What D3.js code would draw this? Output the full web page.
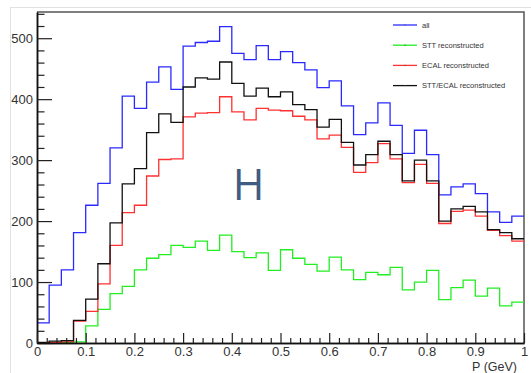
<!DOCTYPE html>
<html>
<head>
<meta charset="utf-8">
<script src="https://cdn.jsdelivr.net/npm/d3@7"></script>
<style>
  body { margin: 0; background: #fff; }
  svg { display: block; font-family: "Liberation Sans", Arial, sans-serif; }
</style>
</head>
<body>
<svg id="graphContainer" width="531" height="373"></svg>
<script>
// 40 bins of 0.025 GeV
const binLow = d3.range(40).map(i => i * 0.025);
const allCounts = [33, 95, 120, 181, 226, 262, 320, 405, 385, 428, 453, 416, 487, 493, 495, 519, 475, 465, 488, 465,
  478, 460, 448, 419, 430, 389, 342, 361, 394, 357, 311, 349, 309, 243, 256, 261, 245, 215, 198, 208];
const sttCounts = [0, 0, 1, 2, 28, 55, 81, 93, 120, 139, 145, 160, 157, 167, 152, 177, 150, 140, 148, 119,
  153, 139, 129, 118, 141, 120, 104, 116, 112, 124, 87, 100, 119, 71, 91, 103, 77, 90, 61, 67];
const ecalCounts = [0, 1, 2, 36, 52, 97, 160, 214, 226, 274, 301, 302, 371, 377, 378, 404, 379, 366, 385, 382,
  381, 372, 366, 335, 341, 321, 280, 296, 327, 302, 263, 293, 262, 196, 216, 218, 208, 185, 176, 167];
const bothCounts = [1, 3, 4, 37, 72, 130, 197, 261, 286, 345, 376, 362, 420, 435, 433, 461, 426, 405, 418, 404,
  412, 391, 383, 354, 367, 329, 292, 309, 331, 309, 266, 300, 266, 200, 220, 224, 215, 186, 181, 171];
const seriesNames = ['all', 'STT reconstructed', 'ECAL reconstructed', 'STT/ECAL reconstructed'];
const seriesColors = ['#2a2aff', '#22ee22', '#ff3030', '#111111'];
const xTicks = [0, 0.1, 0.2, 0.3, 0.4, 0.5, 0.6, 0.7, 0.8, 0.9, 1];
const yTicks = [0, 100, 200, 300, 400, 500];

const svg = d3.select('#graphContainer');
const frameL = 37, frameR = 524, frameT = 12, frameB = 343;

const x = d3.scaleLinear().domain([0, 1]).range([frameL, frameR]);
const y = d3.scaleLinear().domain([0, 543]).range([frameB, frameT]);

// light pad border
svg.append('line').attr('x1', 10.5).attr('x2', 10.5).attr('y1', 7).attr('y2', 373)
  .attr('stroke', '#e2e2e2');
svg.append('line').attr('x1', 10).attr('x2', 531).attr('y1', 7.5).attr('y2', 7.5)
  .attr('stroke', '#e2e2e2');

// frame top / right
svg.append('path')
  .attr('d', `M${frameL},${frameT}H${frameR}V${frameB}`)
  .attr('fill', 'none').attr('stroke', '#555').attr('stroke-width', 1.5);

// histograms
const step = d3.line().curve(d3.curveStepAfter).x(d => x(d[0])).y(d => y(d[1]));
[allCounts, sttCounts, ecalCounts, bothCounts].forEach((counts, k) => {
  const pts = binLow.map((b, i) => [b, counts[i]]);
  pts.push([1, counts[counts.length - 1]]);
  svg.append('path')
    .datum(pts)
    .attr('d', step)
    .attr('fill', 'none')
    .attr('stroke', seriesColors[k])
    .attr('stroke-width', 1.3);
});

// axes, ticks inward like ROOT
const yMinor = d3.range(0, 541, 20).filter(v => v % 100 !== 0);
const xMinor = d3.range(0, 51).map(i => i * 0.02).filter((v, i) => i % 5 !== 0);

svg.append('g').attr('transform', `translate(${frameL},0)`)
  .call(d3.axisLeft(y).tickValues(yMinor).tickSizeInner(-7.5).tickSizeOuter(0).tickFormat(''));
svg.append('g').attr('transform', `translate(0,${frameB})`)
  .call(d3.axisBottom(x).tickValues(xMinor).tickSizeInner(-5).tickSizeOuter(0).tickFormat(''));

const yAxis = svg.append('g').attr('transform', `translate(${frameL},0)`)
  .call(d3.axisLeft(y).tickValues(yTicks).tickSizeInner(-15).tickSizeOuter(0).tickPadding(4)
    .tickFormat(d3.format('d')));
const xAxis = svg.append('g').attr('transform', `translate(0,${frameB})`)
  .call(d3.axisBottom(x).tickValues(xTicks).tickSizeInner(-10).tickSizeOuter(0).tickPadding(4)
    .tickFormat(d => d === 0 || d === 1 ? String(d) : d.toFixed(1)));

svg.selectAll('.domain').attr('stroke', '#111').attr('stroke-width', 1.5);
svg.selectAll('.tick line').attr('stroke', '#222').attr('stroke-width', 1.2);
yAxis.selectAll('text').attr('font-size', 13).attr('fill', '#333')
  .attr('font-family', '"Liberation Sans", Arial, sans-serif');
xAxis.selectAll('text').attr('font-size', 13).attr('fill', '#333')
  .attr('font-family', '"Liberation Sans", Arial, sans-serif');

svg.append('text')
  .attr('x', 517).attr('y', 371)
  .attr('text-anchor', 'end')
  .attr('font-size', 12.5).attr('fill', '#333')
  .text('P (GeV)');

// legend
const leg = svg.append('g');
seriesNames.forEach((name, k) => {
  const ly = 25 + k * 20.2;
  leg.append('line').attr('x1', 393).attr('x2', 417).attr('y1', ly).attr('y2', ly)
    .attr('stroke', seriesColors[k]).attr('stroke-width', 1.3);
  leg.append('rect').attr('x', 404.5).attr('y', ly - 0.5).attr('width', 1).attr('height', 1)
    .attr('fill', '#444');
  leg.append('text').attr('x', 422).attr('y', ly + 2.6)
    .attr('font-size', 7.5).attr('fill', '#333')
    .text(name);
});

// big label
svg.append('text')
  .attr('x', 248.5).attr('y', 199.5)
  .attr('text-anchor', 'middle')
  .attr('font-size', 43)
  .attr('font-family', '"Open Sans", "Liberation Sans", sans-serif')
  .attr('fill', '#3f5d82')
  .text('H');
</script>
</body>
</html>
